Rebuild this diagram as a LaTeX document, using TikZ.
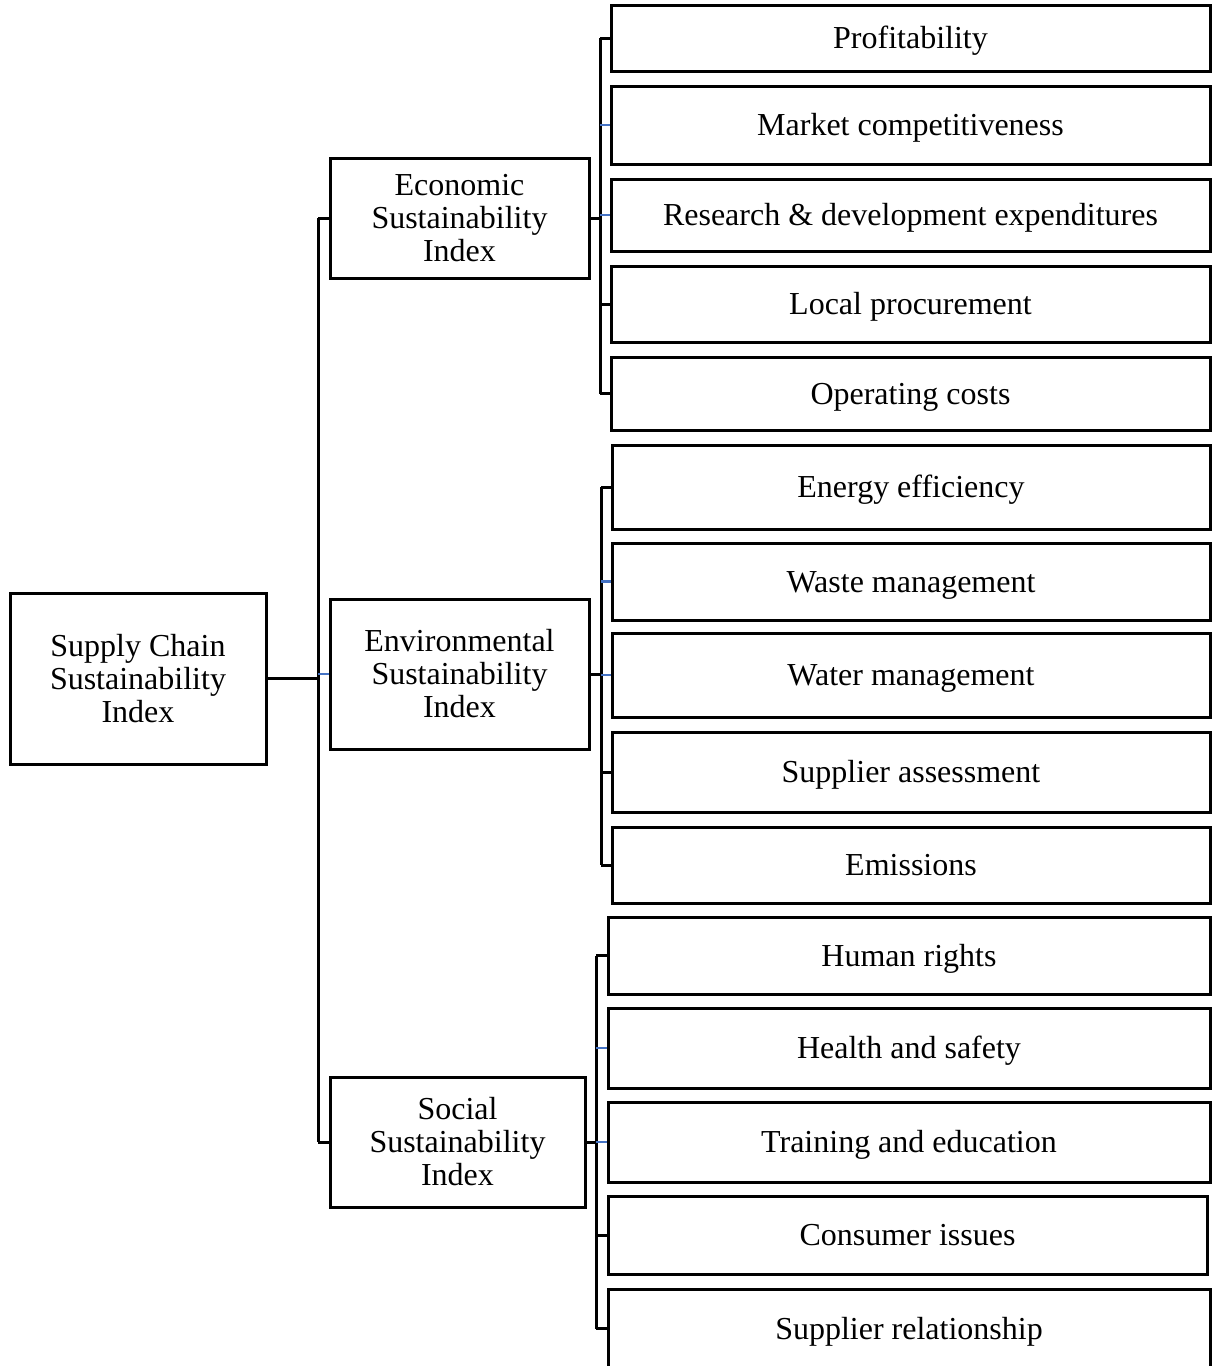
\documentclass[tikz,border=0pt]{standalone}
\usepackage{fontspec}
\setmainfont{Liberation Serif}
\definecolor{linkblue}{HTML}{4472C4}
\tikzset{
  box/.style={draw=black, line width=1.5pt, fill=white, inner sep=0pt, align=center,
    font=\fontsize{16}{16.5}\selectfont},
  leafbox/.style={box, text height=14pt, text depth=3.5pt},
  conn/.style={draw=black, line width=1.5pt},
  bconn/.style={draw=linkblue, line width=1.1pt},
}
\newcommand\bx[7][box]{\node[#1, minimum width={(#5-#3)*0.5pt}, minimum height={(#6-#4)*0.5pt}] (#2) at ({(#3+#5)/2},{(#4+#6)/2}) {#7};}
\begin{document}
\begin{tikzpicture}[x=0.5pt,y=-0.5pt]
\useasboundingbox (0,0) rectangle (1211,1366);
% root and mid boxes
\bx{root}{10}{593}{266}{764}{Supply Chain\\Sustainability\\Index}
\bx{econ}{330}{158}{589}{278}{Economic\\Sustainability\\Index}
\bx{env}{330}{599}{589}{749}{Environmental\\Sustainability\\Index}
\bx{soc}{330}{1077}{585}{1207}{Social\\Sustainability\\Index}
% economic leaves
\bx[leafbox]{e1}{611}{5}{1210}{71}{Profitability}
\bx[leafbox]{e2}{611}{86}{1210}{164}{Market competitiveness}
\bx[leafbox]{e3}{611}{179}{1210}{251}{Research \& development expenditures}
\bx[leafbox]{e4}{611}{266}{1210}{342}{Local procurement}
\bx[leafbox]{e5}{611}{357}{1210}{430}{Operating costs}
% environmental leaves
\bx[leafbox]{v1}{612}{445}{1210}{529}{Energy efficiency}
\bx[leafbox]{v2}{612}{543}{1210}{620}{Waste management}
\bx[leafbox]{v3}{612}{633}{1210}{717}{Water management}
\bx[leafbox]{v4}{612}{732}{1210}{812}{Supplier assessment}
\bx[leafbox]{v5}{612}{827}{1210}{903}{Emissions}
% social leaves
\bx[leafbox]{s1}{608}{917}{1210}{994}{Human rights}
\bx[leafbox]{s2}{608}{1008}{1210}{1088}{Health and safety}
\bx[leafbox]{s3}{608}{1102}{1210}{1182}{Training and education}
\bx[leafbox]{s4}{608}{1196}{1207}{1274}{Consumer issues}
\bx[leafbox]{s5}{608}{1289}{1210}{1368}{Supplier relationship}
% trunk
\coordinate (t1) at (318,218);
\coordinate (t3) at (318,1142);
\draw[conn] (root.east) -- (root.east -| t1);
\draw[conn] (t1) -- (t3);
\draw[conn] (t1) -- (econ.west);
\draw[conn] (t3) -- (soc.west);
\draw[bconn] (env.west -| t1) -- (env.west);
% economic bracket
\coordinate (be) at (600,0);
\draw[conn] (econ.east) -- (econ.east -| be);
\draw[conn] (e1.west -| be) -- (e5.west -| be);
\draw[conn] (e1.west -| be) -- (e1.west);
\draw[bconn] (e2.west -| be) -- (e2.west);
\draw[bconn] (e3.west -| be) -- (e3.west);
\draw[conn] (e4.west -| be) -- (e4.west);
\draw[conn] (e5.west -| be) -- (e5.west);
% environmental bracket
\coordinate (bv) at (601,0);
\draw[conn] (env.east) -- (env.east -| bv);
\draw[conn] (v1.west -| bv) -- (v5.west -| bv);
\draw[conn] (v1.west -| bv) -- (v1.west);
\draw[bconn] (v2.west -| bv) -- (v2.west);
\draw[bconn] (v3.west -| bv) -- (v3.west);
\draw[conn] (v4.west -| bv) -- (v4.west);
\draw[conn] (v5.west -| bv) -- (v5.west);
% social bracket
\coordinate (bs) at (596,0);
\draw[conn] (soc.east) -- (soc.east -| bs);
\draw[conn] (s1.west -| bs) -- (s5.west -| bs);
\draw[conn] (s1.west -| bs) -- (s1.west);
\draw[bconn] (s2.west -| bs) -- (s2.west);
\draw[bconn] (s3.west -| bs) -- (s3.west);
\draw[conn] (s4.west -| bs) -- (s4.west);
\draw[conn] (s5.west -| bs) -- (s5.west);
\end{tikzpicture}
\end{document}
